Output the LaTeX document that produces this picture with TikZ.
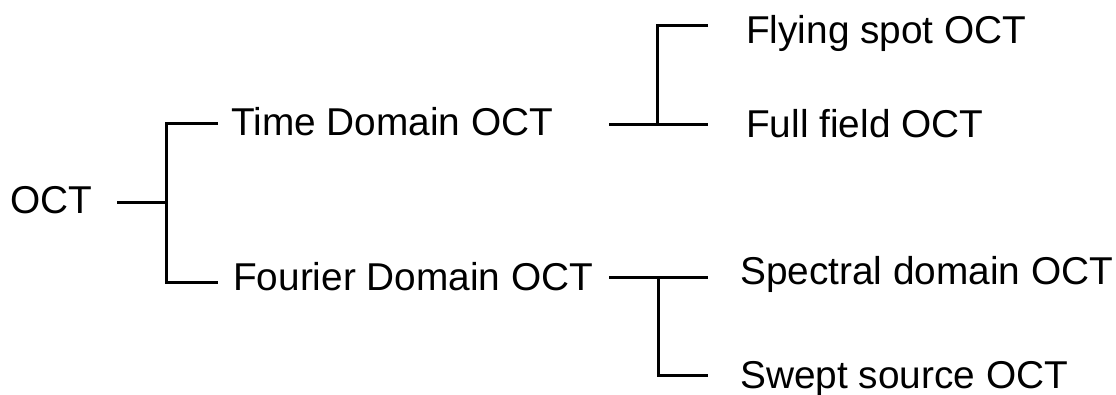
\documentclass[tikz,border=0pt]{standalone}
\usepackage{fontspec}
\setmainfont{Liberation Sans}
\begin{document}
\begin{tikzpicture}[x=1pt,y=-1pt,
  lbl/.style={anchor=base west,inner sep=0pt,font=\fontsize{38.8}{46}\selectfont},
  br/.style={line width=3pt,line cap=butt,line join=miter}]
\useasboundingbox (0,0) rectangle (1116,394);
% labels
\node[lbl] (oct) at (10,213) {OCT};
\node[lbl] (td) at (231,135.7) {Time Domain OCT};
\node[lbl] (fd) at (233,290.7) {Fourier Domain OCT};
\node[lbl] (fs) at (746,43) {Flying spot OCT};
\node[lbl] (ff) at (746,137) {Full field OCT};
\node[lbl] (sd) at (740,284) {Spectral domain OCT};
\node[lbl] (ss) at (740,388) {Swept source OCT};
% junction coordinates
\coordinate (j1) at (166,202);
\coordinate (a0) at (117,202);
\coordinate (a1) at (218,123);
\coordinate (a2) at (218,282);
\coordinate (j2) at (657.5,124);
\coordinate (b0) at (609,124);
\coordinate (b1) at (708,25);
\coordinate (b2) at (708,124);
\coordinate (j3) at (658,277);
\coordinate (c0) at (609,277);
\coordinate (c1) at (708,277);
\coordinate (c2) at (708,375);
% brackets
\draw[br] (a0) -- (j1);
\draw[br] (a1) -| (j1) |- (a2);
\draw[br] (b0) -- (b2);
\draw[br] (b1) -| (j2);
\draw[br] (c0) -- (c1);
\draw[br] (j3) |- (c2);
\end{tikzpicture}
\end{document}
